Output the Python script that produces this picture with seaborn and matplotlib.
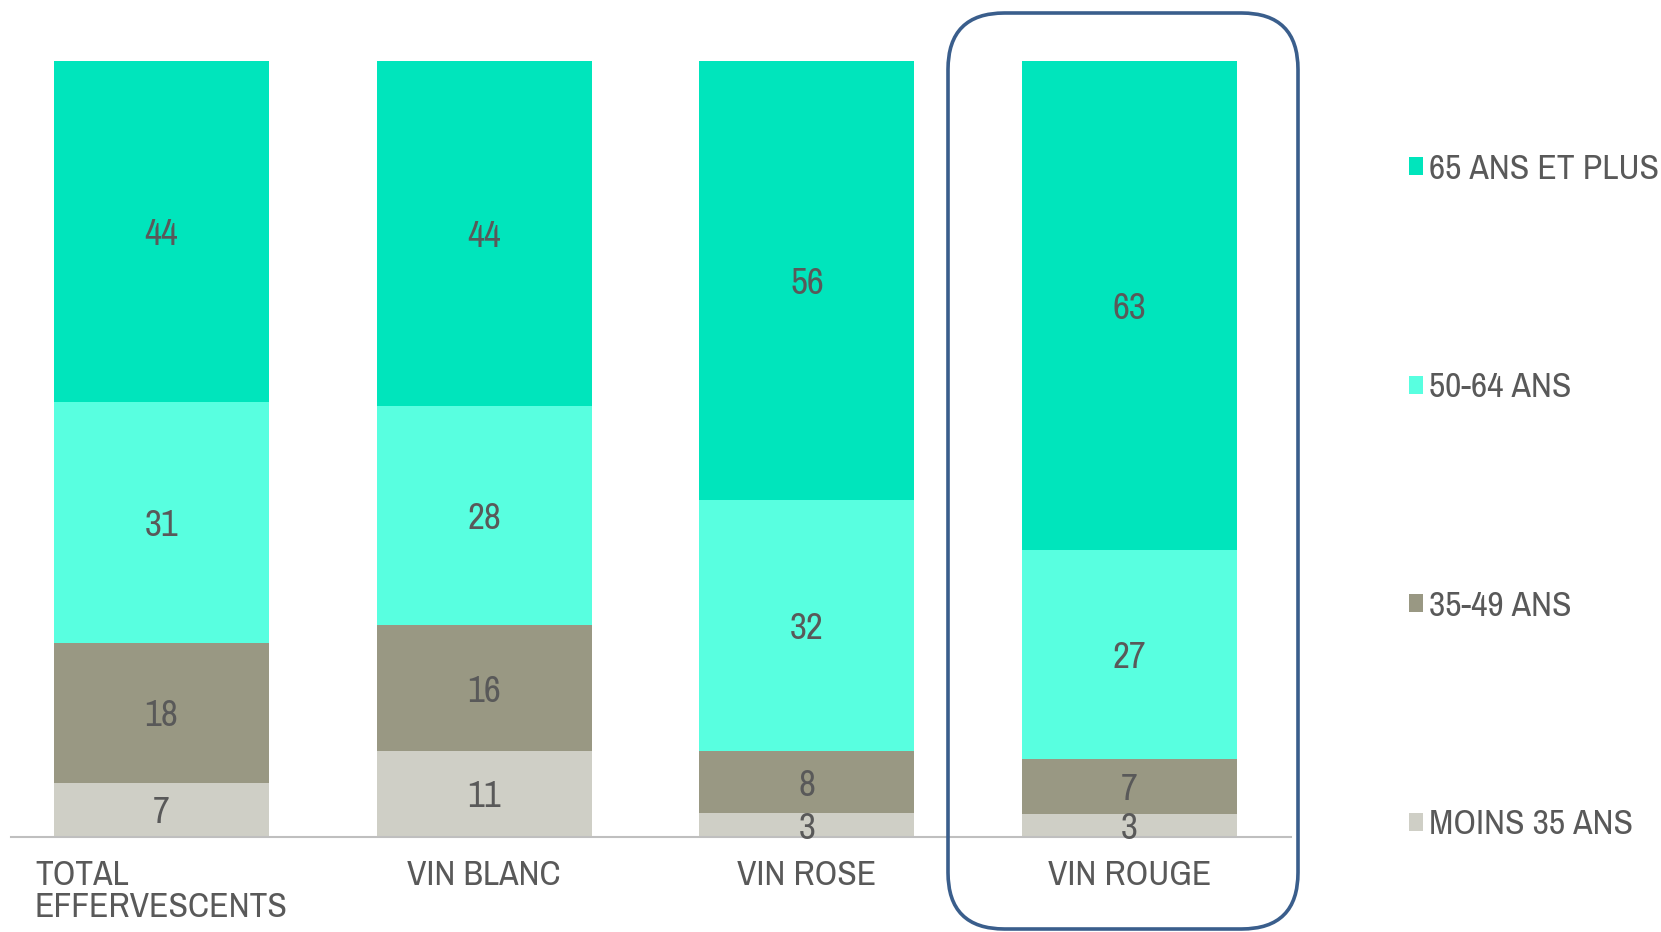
import matplotlib
matplotlib.use("Agg")
import matplotlib.pyplot as plt
from matplotlib.patches import FancyBboxPatch, Patch
from matplotlib import font_manager
from matplotlib.font_manager import FontProperties
from matplotlib.textpath import TextPath
import seaborn as sns
import pandas as pd
import numpy as np

categories = ["TOTAL\nEFFERVESCENTS", "VIN BLANC", "VIN ROSE", "VIN ROUGE"]
age_groups = ["MOINS 35 ANS", "35-49 ANS", "50-64 ANS", "65 ANS ET PLUS"]
moins_35 = [7, 11, 3, 3]
ans_35_49 = [18, 16, 8, 7]
ans_50_64 = [31, 28, 32, 27]
ans_65_plus = [44, 44, 56, 63]
colors = ["#CFCFC6", "#999883", "#58FFE0", "#00E5BC"]

sns.set_theme(style="white")

# pick a narrow sans if one is installed, else Liberation Sans
narrow = None
for f in font_manager.fontManager.ttflist:
    if ("Narrow" in f.name or "Narrow" in f.fname) and f.weight in (400, "normal") and f.style == "normal":
        narrow = f.fname
        break
if narrow:
    fp = FontProperties(fname=narrow)
    plt.rcParams["font.family"] = [fp.get_name(), "DejaVu Sans"]
else:
    plt.rcParams["font.family"] = ["Liberation Sans", "DejaVu Sans"]
    fp = FontProperties(family="Liberation Sans")

# font size chosen so the longest legend text is about as wide as in the reference
w1 = TextPath((0, 0), "65 ANS ET PLUS", size=1, prop=fp).get_extents().width
FS = min(26, 227 * 0.72 / w1)
TXT = "#595959"

series = [moins_35, ans_35_49, ans_50_64, ans_65_plus]
vals = np.array(series, dtype=float)
pct = vals / vals.sum(axis=0) * 100
cum = np.cumsum(pct, axis=0)

W, H = 1661, 932
fig = plt.figure(figsize=(W / 100, H / 100), dpi=100)
ax = fig.add_axes([0, 1 - 837 / H, 1291 / W, (837 - 61) / H])

# draw cumulative layers from top to bottom (overlay technique for stacking)
for i in range(len(age_groups) - 1, -1, -1):
    df = pd.DataFrame({"cat": categories, "val": cum[i]})
    sns.barplot(data=df, x="cat", y="val", order=categories, color=colors[i],
                width=0.666, saturation=1, ax=ax, edgecolor="none", linewidth=0)

for j, c in enumerate(categories):
    base = 0
    for i in range(len(age_groups)):
        ax.text(j, base + pct[i, j] / 2, f"{series[i][j]}", ha="center",
                va="center_baseline", fontsize=FS + 1, color=TXT)
        base += pct[i, j]

ax.set_xlim(-0.5, 3.5)
ax.set_ylim(0, 100)
ax.set_xlabel("")
ax.set_ylabel("")
ax.set_yticks([])
for s in ["top", "right", "left"]:
    ax.spines[s].set_visible(False)
ax.spines["bottom"].set_color("#BFBFBF")
ax.spines["bottom"].set_linewidth(1.5)
ax.spines["bottom"].set_bounds(-0.465, 3.5)
ax.set_xticks([0, 1, 2, 3])
ax.set_xticklabels(categories, fontsize=FS, color=TXT, multialignment="left", linespacing=1.0)
ax.tick_params(axis="x", length=0, pad=16)
ax.set_xticks([0.5, 1.5, 2.5, 3.5], minor=True)
ax.tick_params(axis="x", which="minor", length=8, width=1.2, color="#BFBFBF", direction="out")

handles = [Patch(facecolor=colors[i], edgecolor="none", label=age_groups[i])
           for i in range(len(age_groups) - 1, -1, -1)]
fs_px = FS * 100 / 72
leg = fig.legend(handles=handles, loc="upper left", bbox_to_anchor=(1409 / W, 1 - 153 / H),
                 frameon=False, fontsize=FS, labelcolor=TXT, handlelength=14 / fs_px,
                 handleheight=14 / fs_px, handletextpad=6 / fs_px,
                 labelspacing=(222 - 1.0 * fs_px) / fs_px, borderaxespad=0, borderpad=0)

box = FancyBboxPatch((948 / W, 1 - 929 / H), (1298 - 948) / W, (929 - 13) / H,
                     boxstyle="round,pad=0,rounding_size=0.034", transform=fig.transFigure,
                     facecolor="none", edgecolor="#3A5E8C", linewidth=2.6,
                     mutation_aspect=W / H)
fig.patches.append(box)

fig.savefig("out.png", dpi=100)
